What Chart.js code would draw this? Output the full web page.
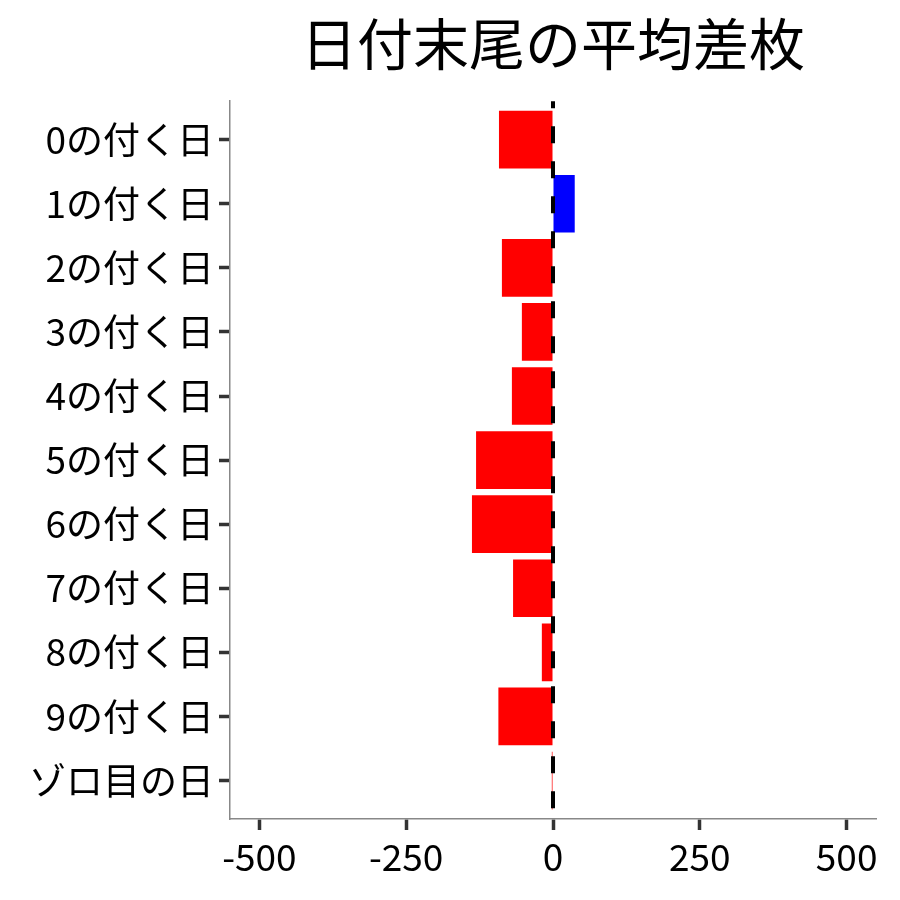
<!DOCTYPE html>
<html>
<head>
<meta charset="utf-8">
<script src="https://cdn.jsdelivr.net/npm/chart.js@4"></script>
<style>
	html, body { margin: 0; padding: 0; background: #fff; }
	#wrap { width: 900px; height: 900px; }
</style>
</head>
<body>
<div id="wrap"><canvas id="chart" width="900" height="900"></canvas></div>
<script>

	//
	// data
	//

	const categories = ['0の付く日', '1の付く日', '2の付く日', '3の付く日', '4の付く日',
		'5の付く日', '6の付く日', '7の付く日', '8の付く日', '9の付く日', 'ゾロ目の日'];
	const diffs = [-92, 37, -87, -53, -70, -131, -138, -68, -19, -93, -2];
	const xTicks = [-500, -250, 0, 250, 500];
	const title = '日付末尾の平均差枚';

	const font = '"Noto Sans CJK JP", "Noto Sans", sans-serif';

	// dashed line at zero, drawn over the bars
	//
	const zeroLine = {
		id: 'zeroLine',
		afterDatasetsDraw: function(chart) {
			let ctx = chart.ctx;
			let area = chart.chartArea;
			let x = chart.scales.x.getPixelForValue(0);
			ctx.save();
			ctx.strokeStyle = '#000';
			ctx.lineWidth = 4;
			ctx.setLineDash([17, 18]);
			ctx.lineDashOffset = 10;
			ctx.beginPath();
			ctx.moveTo(x, area.top);
			ctx.lineTo(x, area.bottom);
			ctx.stroke();
			ctx.restore();
		}
	};

	new Chart(document.getElementById('chart').getContext('2d'), {
		type: 'bar',
		data: {
			datasets: [{
				data: diffs.map((v, i) => ({ x: v, y: i })),
				backgroundColor: diffs.map(v => v > 0 ? '#0000ff' : '#ff0000'),
				borderWidth: 0,
				barPercentage: 0.9,
				categoryPercentage: 1.0
			}]
		},
		options: {
			indexAxis: 'y',
			responsive: false,
			animation: false,
			layout: {
				padding: { left: 0, right: 24, top: 0, bottom: 0 }
			},
			plugins: {
				legend: { display: false },
				tooltip: { enabled: false },
				title: {
					display: true,
					text: title,
					fullSize: false,
					color: '#000',
					font: { family: font, size: 56, weight: 'normal', lineHeight: 1.2 },
					padding: { top: 10, bottom: 24 }
				}
			},
			scales: {
				x: {
					type: 'linear',
					min: -550,
					max: 550,
					afterBuildTicks: function(axis) {
						axis.ticks = xTicks.map(v => ({ value: v }));
					},
					afterFit: function(axis) {
						axis.height = 81;
					},
					grid: {
						drawOnChartArea: false,
						drawTicks: true,
						tickLength: 11,
						tickWidth: 3.5,
						tickColor: '#333'
					},
					border: { display: true, color: '#888', width: 1.5 },
					ticks: {
						color: '#000',
						padding: 5,
						maxRotation: 0,
						font: { family: font, size: 37 }
					}
				},
				y: {
					type: 'linear',
					reverse: true,
					offset: false,
					min: -0.6,
					max: categories.length - 0.4,
					afterBuildTicks: function(axis) {
						axis.ticks = categories.map((c, i) => ({ value: i }));
					},
					afterFit: function(axis) {
						axis.width = 230;
					},
					grid: {
						offset: false,
						drawOnChartArea: false,
						drawTicks: true,
						tickLength: 11,
						tickWidth: 3.5,
						tickColor: '#333'
					},
					border: { display: true, color: '#888', width: 1.5 },
					ticks: {
						color: '#000',
						padding: 5,
						autoSkip: false,
						font: { family: font, size: 37 },
						callback: function(value) {
							return categories[value];
						}
					}
				}
			}
		},
		plugins: [zeroLine]
	});
</script>
</body>
</html>
